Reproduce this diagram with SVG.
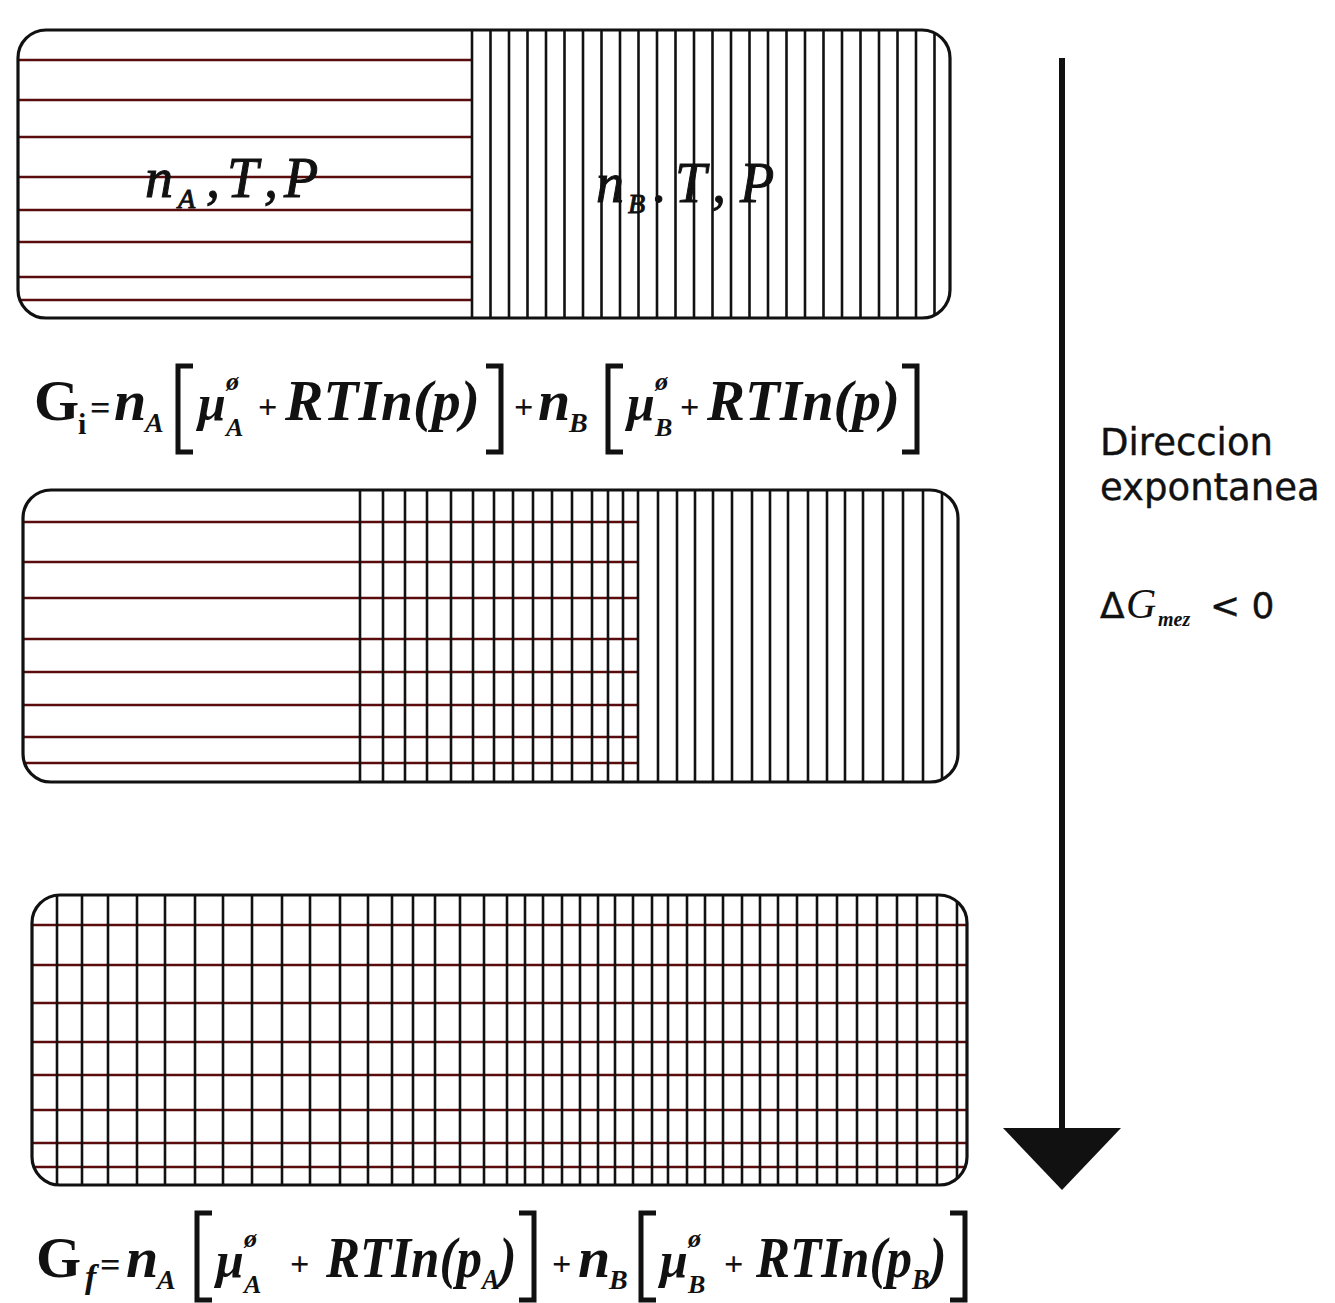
<svg xmlns="http://www.w3.org/2000/svg" width="1335" height="1303" viewBox="0 0 1335 1303">
<style>
.bg{fill:#ffffff}
.box{fill:none;stroke:#111;stroke-width:3.2}
.h{stroke:#5a0c0c;stroke-width:2.6}
.v{stroke:#111;stroke-width:2.6}
.f{font-family:"Liberation Serif",serif;font-style:italic;font-weight:bold;fill:#111}
.l{font-family:"Liberation Serif",serif;font-style:italic;fill:#111;stroke:#111;stroke-width:1}
.u{font-family:"Liberation Serif",serif;font-weight:bold;fill:#111}
.s{font-family:"DejaVu Sans",sans-serif;fill:#111;stroke:#111;stroke-width:0.4}
.br{fill:none;stroke:#111;stroke-width:5;stroke-linejoin:miter}
</style>
<defs>
<clipPath id="c1"><rect x="18" y="30" width="932" height="288" rx="28"/></clipPath>
<clipPath id="c2"><rect x="23" y="490" width="935" height="292" rx="28"/></clipPath>
<clipPath id="c3"><rect x="32" y="895" width="935" height="290" rx="28"/></clipPath>
</defs>
<rect class="bg" x="0" y="0" width="1335" height="1303"/>

<g id="box-initial">
<g clip-path="url(#c1)">
<g class="h">
<line x1="18" y1="60" x2="472" y2="60"/><line x1="18" y1="100" x2="472" y2="100"/><line x1="18" y1="137" x2="472" y2="137"/><line x1="18" y1="177" x2="472" y2="177"/><line x1="18" y1="210" x2="472" y2="210"/><line x1="18" y1="242" x2="472" y2="242"/><line x1="18" y1="277" x2="472" y2="277"/><line x1="18" y1="300" x2="472" y2="300"/>
</g>
<g class="v">
<line x1="472" y1="30" x2="472" y2="318"/><line x1="490.5" y1="30" x2="490.5" y2="318"/><line x1="509" y1="30" x2="509" y2="318"/><line x1="527.5" y1="30" x2="527.5" y2="318"/><line x1="546" y1="30" x2="546" y2="318"/><line x1="564.5" y1="30" x2="564.5" y2="318"/><line x1="583" y1="30" x2="583" y2="318"/><line x1="601.5" y1="30" x2="601.5" y2="318"/><line x1="620" y1="30" x2="620" y2="318"/><line x1="638.5" y1="30" x2="638.5" y2="318"/><line x1="657" y1="30" x2="657" y2="318"/><line x1="675.5" y1="30" x2="675.5" y2="318"/><line x1="694" y1="30" x2="694" y2="318"/><line x1="712.5" y1="30" x2="712.5" y2="318"/><line x1="731" y1="30" x2="731" y2="318"/><line x1="749.5" y1="30" x2="749.5" y2="318"/><line x1="768" y1="30" x2="768" y2="318"/><line x1="786.5" y1="30" x2="786.5" y2="318"/><line x1="805" y1="30" x2="805" y2="318"/><line x1="823.5" y1="30" x2="823.5" y2="318"/><line x1="842" y1="30" x2="842" y2="318"/><line x1="860.5" y1="30" x2="860.5" y2="318"/><line x1="879" y1="30" x2="879" y2="318"/><line x1="897.5" y1="30" x2="897.5" y2="318"/><line x1="916" y1="30" x2="916" y2="318"/><line x1="934.5" y1="30" x2="934.5" y2="318"/>
</g>
</g>
<rect class="box" x="18" y="30" width="932" height="288" rx="28"/>
<text class="l" y="197" font-size="56"><tspan x="145">n</tspan><tspan x="178" dy="11" font-size="28">A</tspan><tspan x="206" dy="-11">,</tspan><tspan x="227">T</tspan><tspan x="264">,</tspan><tspan x="284">P</tspan></text>
<text class="l" y="202" font-size="56"><tspan x="596">n</tspan><tspan x="628" dy="11" font-size="28">B</tspan><tspan x="653" dy="-11">.</tspan><tspan x="675">T</tspan><tspan x="712">,</tspan><tspan x="740">P</tspan></text>
</g>

<g id="formula-initial">
<text class="u" x="34" y="420" font-size="58">G</text>
<text class="u" x="78" y="434" font-size="30">i</text>
<text class="u" x="90" y="420" font-size="36">=</text>
<text class="f" x="114" y="420" font-size="58">n</text>
<text class="f" x="145" y="432" font-size="28">A</text>
<path class="br" d="M193,366 H178 V452 H193"/>
<text class="f" x="198" y="420" font-size="50">μ</text>
<text class="f" x="226" y="390" font-size="26">ø</text>
<text class="f" x="226" y="436" font-size="26">A</text>
<text class="u" x="258" y="418" font-size="34">+</text>
<text class="f" x="285" y="420" font-size="58" textLength="195" lengthAdjust="spacingAndGlyphs">RTIn(p)</text>
<path class="br" d="M486,366 H501 V452 H486"/>
<text class="u" x="514" y="418" font-size="34">+</text>
<text class="f" x="538" y="420" font-size="58">n</text>
<text class="f" x="569" y="432" font-size="28">B</text>
<path class="br" d="M623,366 H608 V452 H623"/>
<text class="f" x="627" y="420" font-size="50">μ</text>
<text class="f" x="655" y="390" font-size="26">ø</text>
<text class="f" x="655" y="436" font-size="26">B</text>
<text class="u" x="680" y="418" font-size="34">+</text>
<text class="f" x="707" y="420" font-size="58" textLength="193" lengthAdjust="spacingAndGlyphs">RTIn(p)</text>
<path class="br" d="M902,366 H917 V452 H902"/>
</g>

<g id="box-mixing">
<g clip-path="url(#c2)">
<g class="h">
<line x1="23" y1="522" x2="638" y2="522"/><line x1="23" y1="562" x2="638" y2="562"/><line x1="23" y1="598" x2="638" y2="598"/><line x1="23" y1="639" x2="638" y2="639"/><line x1="23" y1="672" x2="638" y2="672"/><line x1="23" y1="705" x2="638" y2="705"/><line x1="23" y1="737" x2="638" y2="737"/><line x1="23" y1="763" x2="638" y2="763"/>
</g>
<g class="v">
<line x1="360" y1="490" x2="360" y2="782"/><line x1="383" y1="490" x2="383" y2="782"/><line x1="405" y1="490" x2="405" y2="782"/><line x1="427" y1="490" x2="427" y2="782"/><line x1="451" y1="490" x2="451" y2="782"/><line x1="473" y1="490" x2="473" y2="782"/><line x1="494" y1="490" x2="494" y2="782"/><line x1="513" y1="490" x2="513" y2="782"/><line x1="533" y1="490" x2="533" y2="782"/><line x1="552" y1="490" x2="552" y2="782"/><line x1="572" y1="490" x2="572" y2="782"/><line x1="592" y1="490" x2="592" y2="782"/><line x1="608" y1="490" x2="608" y2="782"/><line x1="623" y1="490" x2="623" y2="782"/><line x1="638" y1="490" x2="638" y2="782"/><line x1="658" y1="490" x2="658" y2="782"/><line x1="677" y1="490" x2="677" y2="782"/><line x1="695" y1="490" x2="695" y2="782"/><line x1="713" y1="490" x2="713" y2="782"/><line x1="732" y1="490" x2="732" y2="782"/><line x1="752" y1="490" x2="752" y2="782"/><line x1="770" y1="490" x2="770" y2="782"/><line x1="788" y1="490" x2="788" y2="782"/><line x1="808" y1="490" x2="808" y2="782"/><line x1="827" y1="490" x2="827" y2="782"/><line x1="845" y1="490" x2="845" y2="782"/><line x1="863" y1="490" x2="863" y2="782"/><line x1="883" y1="490" x2="883" y2="782"/><line x1="903" y1="490" x2="903" y2="782"/><line x1="923" y1="490" x2="923" y2="782"/><line x1="942" y1="490" x2="942" y2="782"/>
</g>
</g>
<rect class="box" x="23" y="490" width="935" height="292" rx="28"/>
</g>

<g id="box-final">
<g clip-path="url(#c3)">
<g class="h">
<line x1="32" y1="925" x2="967" y2="925"/><line x1="32" y1="965" x2="967" y2="965"/><line x1="32" y1="1003" x2="967" y2="1003"/><line x1="32" y1="1042" x2="967" y2="1042"/><line x1="32" y1="1075" x2="967" y2="1075"/><line x1="32" y1="1110" x2="967" y2="1110"/><line x1="32" y1="1143" x2="967" y2="1143"/><line x1="32" y1="1167" x2="967" y2="1167"/>
</g>
<g class="v">
<line x1="57" y1="895" x2="57" y2="1185"/><line x1="82" y1="895" x2="82" y2="1185"/><line x1="108" y1="895" x2="108" y2="1185"/><line x1="137" y1="895" x2="137" y2="1185"/><line x1="165" y1="895" x2="165" y2="1185"/><line x1="195" y1="895" x2="195" y2="1185"/><line x1="223" y1="895" x2="223" y2="1185"/><line x1="252" y1="895" x2="252" y2="1185"/><line x1="282" y1="895" x2="282" y2="1185"/><line x1="310" y1="895" x2="310" y2="1185"/><line x1="340" y1="895" x2="340" y2="1185"/><line x1="368" y1="895" x2="368" y2="1185"/><line x1="392" y1="895" x2="392" y2="1185"/><line x1="413" y1="895" x2="413" y2="1185"/><line x1="435" y1="895" x2="435" y2="1185"/><line x1="460" y1="895" x2="460" y2="1185"/><line x1="484" y1="895" x2="484" y2="1185"/><line x1="507" y1="895" x2="507" y2="1185"/><line x1="525" y1="895" x2="525" y2="1185"/><line x1="543" y1="895" x2="543" y2="1185"/><line x1="562" y1="895" x2="562" y2="1185"/><line x1="580" y1="895" x2="580" y2="1185"/><line x1="598" y1="895" x2="598" y2="1185"/><line x1="615" y1="895" x2="615" y2="1185"/><line x1="633" y1="895" x2="633" y2="1185"/><line x1="652" y1="895" x2="652" y2="1185"/><line x1="668" y1="895" x2="668" y2="1185"/><line x1="687" y1="895" x2="687" y2="1185"/><line x1="705" y1="895" x2="705" y2="1185"/><line x1="723" y1="895" x2="723" y2="1185"/><line x1="742" y1="895" x2="742" y2="1185"/><line x1="760" y1="895" x2="760" y2="1185"/><line x1="778" y1="895" x2="778" y2="1185"/><line x1="797" y1="895" x2="797" y2="1185"/><line x1="817" y1="895" x2="817" y2="1185"/><line x1="837" y1="895" x2="837" y2="1185"/><line x1="857" y1="895" x2="857" y2="1185"/><line x1="877" y1="895" x2="877" y2="1185"/><line x1="897" y1="895" x2="897" y2="1185"/><line x1="917" y1="895" x2="917" y2="1185"/><line x1="937" y1="895" x2="937" y2="1185"/><line x1="957" y1="895" x2="957" y2="1185"/>
</g>
</g>
<rect class="box" x="32" y="895" width="935" height="290" rx="28"/>
</g>

<g id="formula-final">
<text class="u" x="36" y="1277" font-size="58">G</text>
<text class="f" x="85" y="1288" font-size="34">f</text>
<text class="u" x="100" y="1277" font-size="36">=</text>
<text class="f" x="126" y="1277" font-size="58">n</text>
<text class="f" x="157" y="1289" font-size="28">A</text>
<path class="br" d="M212,1213 H197 V1300 H212"/>
<text class="f" x="216" y="1277" font-size="50">μ</text>
<text class="f" x="244" y="1247" font-size="26">ø</text>
<text class="f" x="244" y="1293" font-size="26">A</text>
<text class="u" x="290" y="1275" font-size="34">+</text>
<text class="f" font-size="58" transform="translate(326,1277) scale(0.88,1)">RTIn(p<tspan font-size="30" dy="12">A</tspan><tspan dy="-12">)</tspan></text>
<path class="br" d="M519,1213 H534 V1300 H519"/>
<text class="u" x="552" y="1275" font-size="34">+</text>
<text class="f" x="578" y="1277" font-size="58">n</text>
<text class="f" x="609" y="1289" font-size="28">B</text>
<path class="br" d="M656,1213 H641 V1300 H656"/>
<text class="f" x="660" y="1277" font-size="50">μ</text>
<text class="f" x="688" y="1247" font-size="26">ø</text>
<text class="f" x="688" y="1293" font-size="26">B</text>
<text class="u" x="724" y="1275" font-size="34">+</text>
<text class="f" font-size="58" transform="translate(756,1277) scale(0.88,1)">RTIn(p<tspan font-size="30" dy="12">B</tspan><tspan dy="-12">)</tspan></text>
<path class="br" d="M950,1213 H965 V1300 H950"/>
</g>

<g id="connectors">
<line x1="1062" y1="58" x2="1062" y2="1132" stroke="#111" stroke-width="6"/>
<polygon points="1003,1128 1121,1128 1062,1190" fill="#111"/>
</g>

<g id="label-direction">
<text class="s" x="1100" y="455" font-size="37">Direccion</text>
<text class="s" x="1100" y="500" font-size="37">expontanea</text>
<text class="s" x="1100" y="618" font-size="36">Δ</text>
<text x="1126" y="618" font-family="Liberation Serif, serif" font-style="italic" font-size="42" fill="#111">G</text>
<text class="f" x="1158" y="626" font-size="20">mez</text>
<text class="s" x="1210" y="618" font-size="36">&lt; 0</text>
</g>
</svg>
